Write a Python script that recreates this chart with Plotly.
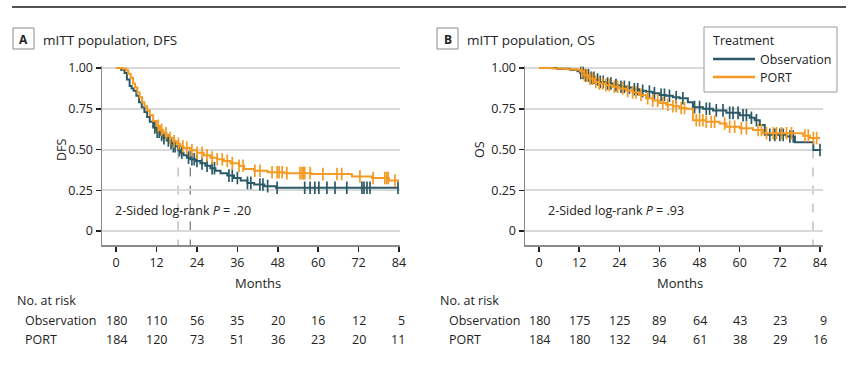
import numpy as np
import plotly.graph_objects as go

W, H = 851, 365

# ---------------- data ----------------
month_ticks = [0, 12, 24, 36, 48, 60, 72, 84]
surv_ticks = [0, 0.25, 0.5, 0.75, 1.0]
surv_tick_text = ["0", "0.25", "0.50", "0.75", "1.00"]

# Panel A - DFS
dfs_obs_t = [0, 1.5, 2.5, 3.2, 4.0, 4.6, 5.2, 6.0, 6.8, 7.6, 8.4, 9.2, 10.0, 11.0, 12.0, 13.0, 14.0, 15.0,
             16.0, 17.0, 18.4, 19.0, 20.0, 21.0, 22.0, 23.5, 25.0, 26.5, 28.0, 29.5, 31.0, 33.0, 35.0, 37.0,
             39.0, 41.0, 44.0, 47.5, 84.0]
dfs_obs_s = [1.0, 0.99, 0.97, 0.93, 0.89, 0.875, 0.86, 0.83, 0.79, 0.76, 0.73, 0.70, 0.67, 0.635, 0.61, 0.59,
             0.57, 0.555, 0.54, 0.52, 0.495, 0.48, 0.465, 0.45, 0.44, 0.43, 0.415, 0.40, 0.385, 0.37, 0.355,
             0.34, 0.325, 0.31, 0.295, 0.285, 0.275, 0.265, 0.265]
dfs_obs_cens = [11.5, 12.2, 12.8, 13.5, 14.2, 15.5, 16.3, 17.0, 17.5, 18.8, 19.5, 21.5, 22.5, 23.2, 24.0,
                25.5, 27.0, 28.5, 29.2, 33.5, 34.5, 36.0, 39.0, 40.0, 42.7, 43.6, 45.0, 47.8, 56.0, 57.6,
                59.0, 60.2, 62.6, 65.0, 68.5, 73.0, 73.6, 74.5, 75.4, 83.7]

dfs_port_t = [0, 2.0, 3.0, 3.6, 4.3, 5.0, 5.6, 6.3, 7.0, 7.7, 8.4, 9.2, 10.0, 11.0, 12.0, 13.0, 14.0, 15.0,
              16.0, 17.0, 18.0, 19.0, 20.0, 22.0, 24.0, 26.0, 28.0, 30.0, 32.0, 34.0, 36.5, 38.0, 41.0,
              45.0, 50.0, 58.0, 70.0, 76.0, 81.0, 84.0]
dfs_port_s = [1.0, 0.995, 0.985, 0.965, 0.94, 0.905, 0.88, 0.85, 0.82, 0.79, 0.765, 0.74, 0.71, 0.675, 0.645,
              0.62, 0.60, 0.585, 0.57, 0.55, 0.535, 0.52, 0.51, 0.495, 0.48, 0.465, 0.45, 0.44, 0.43, 0.415,
              0.40, 0.38, 0.37, 0.36, 0.355, 0.35, 0.335, 0.325, 0.31, 0.31]
dfs_port_cens = [12.5, 13.5, 14.8, 16.0, 17.2, 18.5, 19.8, 21.0, 22.5, 24.0, 25.5, 27.0, 28.5, 30.0, 31.5,
                 33.0, 34.5, 36.5, 37.7, 41.2, 42.7, 46.3, 47.8, 48.4, 49.3, 50.7, 54.6, 55.2, 55.6, 56.0,
                 57.6, 61.4, 65.6, 67.0, 72.4, 76.3, 79.8, 80.4, 80.8, 82.8]

# Panel B - OS
os_obs_t = [0, 5.4, 9.3, 11.5, 12.3, 13.5, 15.0, 16.5, 18.0, 20.0, 22.0, 24.0, 26.0, 28.0, 30.0, 32.0, 34.0,
            36.0, 38.0, 40.0, 42.0, 44.5, 46.0, 49.0, 52.0, 56.0, 60.0, 63.0, 64.5, 66.0, 67.5, 74.0, 76.5,
            82.0, 84.0]
os_obs_s = [1.0, 0.995, 0.99, 0.98, 0.97, 0.955, 0.94, 0.93, 0.915, 0.905, 0.895, 0.885, 0.88, 0.87, 0.86,
            0.855, 0.845, 0.835, 0.83, 0.82, 0.815, 0.79, 0.76, 0.75, 0.74, 0.725, 0.71, 0.695, 0.68, 0.65,
            0.59, 0.58, 0.545, 0.497, 0.497]
os_obs_cens = [12.5, 13.2, 14.0, 14.8, 15.6, 16.4, 17.5, 18.3, 19.2, 20.5, 21.5, 23.0, 24.5, 25.5, 27.0,
               28.5, 29.5, 31.0, 33.0, 34.5, 36.5, 37.5, 39.0, 41.0, 43.0, 46.5, 48.0, 50.0, 51.0, 53.0,
               55.0, 57.0, 58.0, 59.5, 61.0, 62.0, 63.5, 65.0, 69.0, 70.5, 72.0, 73.0, 75.0, 76.0, 84.0]

os_port_t = [0, 4.0, 8.0, 11.0, 12.3, 13.5, 15.0, 16.5, 18.0, 20.0, 22.0, 24.0, 26.0, 28.0, 30.0, 32.0, 34.0,
             36.0, 38.0, 40.0, 42.0, 44.0, 46.0, 50.0, 54.0, 56.0, 60.0, 64.0, 67.0, 79.0, 81.0, 84.0]
os_port_s = [1.0, 0.997, 0.993, 0.99, 0.98, 0.955, 0.935, 0.915, 0.905, 0.895, 0.885, 0.875, 0.86, 0.85,
             0.835, 0.815, 0.80, 0.785, 0.775, 0.765, 0.755, 0.75, 0.68, 0.67, 0.66, 0.64, 0.63, 0.62, 0.60,
             0.585, 0.57, 0.57]
os_port_cens = [12.8, 13.6, 14.4, 15.2, 16.0, 17.0, 18.0, 19.0, 20.0, 21.0, 22.5, 23.5, 25.0, 26.5, 28.0,
                29.0, 30.5, 32.5, 34.0, 35.5, 37.0, 38.5, 40.0, 41.0, 42.5, 43.5, 47.0, 48.0, 49.0, 50.0,
                51.5, 52.5, 55.5, 57.0, 58.5, 60.5, 62.0, 65.5, 66.5, 68.0, 70.0, 71.0, 72.5, 74.0, 75.5,
                79.5, 80.5, 82.0, 83.0]

risk_dfs_obs = [180, 110, 56, 35, 20, 16, 12, 5]
risk_dfs_port = [184, 120, 73, 51, 36, 23, 20, 11]
risk_os_obs = [180, 175, 125, 89, 64, 43, 23, 9]
risk_os_port = [184, 180, 132, 94, 61, 38, 29, 16]

series_names = ["Observation", "PORT"]

# ---------------- style ----------------
C_OBS = "#2b5a66"
C_PORT = "#f59a23"
TXT = "#222222"
FONT = "Open Sans"


def px(x):
    return x / W


def py(y):
    return 1 - y / H


def step_value(t_arr, s_arr, t):
    idx = np.searchsorted(np.asarray(t_arr), t, side="right") - 1
    return np.asarray(s_arr)[idx]


fig = go.Figure()


def add_km(t, s, cens, color, name, xa, ya):
    fig.add_trace(go.Scatter(x=t, y=s, mode="lines", line=dict(color=color, width=2, shape="hv"),
                             name=name, showlegend=False, xaxis=xa, yaxis=ya, hoverinfo="skip"))
    cy = [step_value(t, s, c) for c in cens]
    fig.add_trace(go.Scatter(x=cens, y=cy, mode="markers",
                             marker=dict(symbol="line-ns", size=9, line=dict(color=color, width=1.7)),
                             showlegend=False, xaxis=xa, yaxis=ya, hoverinfo="skip"))


add_km(dfs_obs_t, dfs_obs_s, dfs_obs_cens, C_OBS, series_names[0], "x", "y")
add_km(dfs_port_t, dfs_port_s, dfs_port_cens, C_PORT, series_names[1], "x", "y")
add_km(os_obs_t, os_obs_s, os_obs_cens, C_OBS, series_names[0], "x2", "y2")
add_km(os_port_t, os_port_s, os_port_cens, C_PORT, series_names[1], "x2", "y2")

YR = [-0.086, 1.01]
y_dom = [py(245), py(66.4)]

xcommon = dict(tickvals=month_ticks, ticks="outside", ticklen=5, tickwidth=1.5, tickcolor=TXT,
               showline=True, linecolor="#8a8a8a", linewidth=1.5, showgrid=False, zeroline=False,
               automargin=False, tickfont=dict(family=FONT, size=12.5, color=TXT))
ycommon = dict(tickvals=surv_ticks, ticktext=surv_tick_text, range=YR, ticks="outside", ticklen=5,
               tickwidth=1.5, tickcolor=TXT, showline=True, linecolor="#8a8a8a", linewidth=1.5,
               showgrid=True, gridcolor="#d9d9d9", gridwidth=2, zeroline=False, automargin=False,
               tickfont=dict(family=FONT, size=12.5, color=TXT))

fig.update_layout(
    width=W, height=H, autosize=False,
    margin=dict(l=0, r=0, t=0, b=0, pad=0, autoexpand=False),
    paper_bgcolor="white", plot_bgcolor="white",
    font=dict(family=FONT, size=12, color=TXT),
    xaxis=dict(domain=[px(102), px(400)], range=[-4.2, 84.3], anchor="y", **xcommon),
    yaxis=dict(domain=y_dom, anchor="x", **ycommon),
    xaxis2=dict(domain=[px(525), px(823)], range=[-4.19, 84.9], anchor="y2", **xcommon),
    yaxis2=dict(domain=y_dom, anchor="x2", **ycommon),
    showlegend=False,
)

shapes = []
# top rule
shapes.append(dict(type="line", xref="paper", yref="paper", x0=px(12), x1=px(846), y0=py(7), y1=py(7),
                   line=dict(color="#1a1a1a", width=1.5)))
# panel letter boxes
for x0 in (13, 437):
    shapes.append(dict(type="rect", xref="paper", yref="paper", x0=px(x0), x1=px(x0 + 21), y0=py(49),
                       y1=py(28), line=dict(color="#8a8a8a", width=1), fillcolor="white"))
# median reference lines
shapes.append(dict(type="line", xref="x", yref="y", x0=-4.2, x1=22.0, y0=0.5, y1=0.5, layer="below",
                   line=dict(color="#444444", width=1, dash="dash")))
shapes.append(dict(type="line", xref="x", yref="y", x0=18.4, x1=18.4, y0=0.5, y1=YR[0], layer="below",
                   line=dict(color="#a0a0a0", width=1, dash="dash")))
shapes.append(dict(type="line", xref="x", yref="y", x0=22.0, x1=22.0, y0=0.5, y1=YR[0], layer="below",
                   line=dict(color="#555555", width=1, dash="dash")))
shapes.append(dict(type="line", xref="x2", yref="y2", x0=-4.19, x1=81.9, y0=0.5, y1=0.5, layer="below",
                   line=dict(color="#a0a0a0", width=1, dash="dash")))
shapes.append(dict(type="line", xref="x2", yref="y2", x0=81.9, x1=81.9, y0=0.5, y1=YR[0], layer="below",
                   line=dict(color="#a0a0a0", width=1, dash="dash")))
# legend box and samples
shapes.append(dict(type="rect", xref="paper", yref="paper", x0=px(704), x1=px(837), y0=py(92), y1=py(27),
                   line=dict(color="#9a9a9a", width=1), fillcolor="white"))
shapes.append(dict(type="line", xref="paper", yref="paper", x0=px(713), x1=px(755), y0=py(59), y1=py(59),
                   line=dict(color=C_OBS, width=2.5)))
shapes.append(dict(type="line", xref="paper", yref="paper", x0=px(713), x1=px(755), y0=py(77), y1=py(77),
                   line=dict(color=C_PORT, width=2.5)))
fig.update_layout(shapes=shapes)

ann = []


def text(x, y, s, size=12, xanchor="left", xref="paper", yref="paper", **kw):
    ann.append(dict(x=x, y=y, xref=xref, yref=yref, text=s, showarrow=False, xanchor=xanchor,
                    yanchor="middle", font=dict(family=FONT, size=size, color=TXT), **kw))


text(px(23.5), py(39), "<b>A</b>", 12, "center")
text(px(447.5), py(39), "<b>B</b>", 12, "center")
text(px(41), py(40), "mITT population, DFS", 13.5)
text(px(465), py(40), "mITT population, OS", 13.5)

text(px(711), py(41), "Treatment", 12.5)
text(px(758), py(59), series_names[0], 12.5)
text(px(758), py(77), series_names[1], 12.5)

text(px(113), py(211), "2-Sided log-rank <i>P</i> = .20", 12.5)
text(px(546), py(211), "2-Sided log-rank <i>P</i> = .93", 12.5)

text(px(61), py(150), "DFS", 12.5, "center", textangle=-90)
text(px(479), py(150), "OS", 12.5, "center", textangle=-90)

text(42, py(283), "Months", 13, "center", xref="x")
text(42, py(283), "Months", 13, "center", xref="x2")

text(px(15), py(300), "No. at risk", 12.5)
text(px(438), py(300), "No. at risk", 12.5)
text(px(23), py(320), series_names[0], 12.5)
text(px(23), py(339), series_names[1], 12.5)
text(px(447), py(320), series_names[0], 12.5)
text(px(447), py(339), series_names[1], 12.5)

for xr, obs, port, last_px in (("x", risk_dfs_obs, risk_dfs_port, 407),
                                ("x2", risk_os_obs, risk_os_port, 829)):
    for i, m in enumerate(month_ticks):
        if i == len(month_ticks) - 1:
            text(px(last_px), py(320), str(obs[i]), 12.5, "right")
            text(px(last_px), py(339), str(port[i]), 12.5, "right")
        else:
            text(m, py(320), str(obs[i]), 12.5, "center", xref=xr)
            text(m, py(339), str(port[i]), 12.5, "center", xref=xr)

fig.update_layout(annotations=ann)

fig.write_html(
    "out.html",
    config={"displayModeBar": False, "staticPlot": True},
    post_script=(
        "document.body.style.margin='0px';"
        "document.body.style.overflow='hidden';"
        "document.documentElement.style.overflow='hidden';"
        "var d=document.getElementById('{plot_id}');"
        "d.style.position='fixed';d.style.top='0px';d.style.left='0px';"
    ),
)
